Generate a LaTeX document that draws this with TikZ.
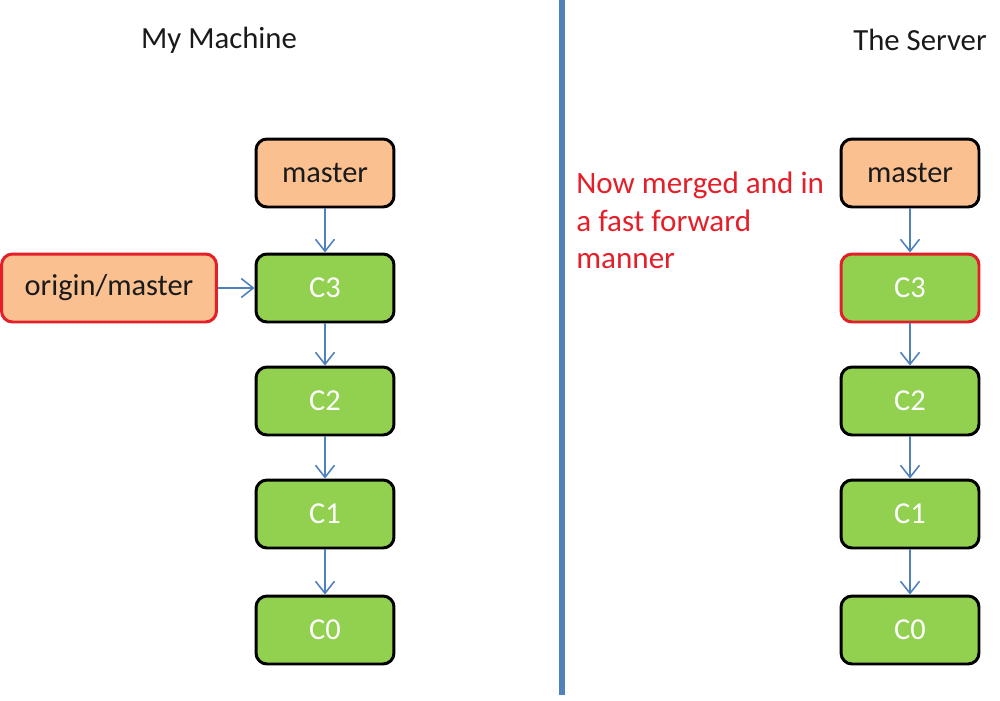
\documentclass[tikz,border=0pt]{standalone}
\usepackage{fontspec}
\setmainfont{Carlito}
\usetikzlibrary{arrows.meta}
\definecolor{boxorange}{HTML}{FAC090}
\definecolor{boxgreen}{HTML}{92D050}
\definecolor{linkblue}{HTML}{4F81BD}
\definecolor{alertred}{HTML}{E3202A}
\definecolor{textdark}{HTML}{1A1A1A}
\tikzset{
  base/.style={rounded corners=0.22cm, line width=1.7pt, minimum height=1.36cm,
    font=\fontsize{17.3}{20}\selectfont, inner sep=0pt},
  branch/.style={base, fill=boxorange, draw=black, text=textdark, minimum width=2.76cm},
  commit/.style={base, fill=boxgreen, draw=black, text=white, minimum width=2.76cm},
  redbranch/.style={branch, draw=alertred},
  redcommit/.style={commit, draw=alertred},
  link/.style={draw=linkblue, line width=0.9pt, -{Straight Barb[length=2.4mm,width=3.8mm,line width=0.9pt]}},
  title/.style={font=\fontsize{17.5}{20}\selectfont, text=textdark},
}
\begin{document}
\begin{tikzpicture}[x=0.02cm, y=-0.02cm]
\useasboundingbox (0,0) rectangle (1000,700);
% titles
\node[title] (tleft) at (219,40) {My Machine};
\node[title] (tright) at (920,40) {The Server};
% divider
\coordinate (dtop) at (562,0);
\coordinate (dbot) at (562,695);
\draw[linkblue, line width=3.4pt] (dtop) -- (dbot);
% left column
\node[branch] (lm) at (325,173) {master};
\node[commit] (l3) at (325,288) {C3};
\node[commit] (l2) at (325,401) {C2};
\node[commit] (l1) at (325,514) {C1};
\node[commit] (l0) at (325,630) {C0};
\node[redbranch, minimum width=4.3cm] (om) at (109,288) {origin/master};
\draw[link] (lm) -- (l3);
\draw[link] (l3) -- (l2);
\draw[link] (l2) -- (l1);
\draw[link] (l1) -- (l0);
\draw[link] (om) -- (l3);
% right column
\node[branch] (rm) at (910,173) {master};
\node[redcommit] (r3) at (910,288) {C3};
\node[commit] (r2) at (910,401) {C2};
\node[commit] (r1) at (910,514) {C1};
\node[commit] (r0) at (910,630) {C0};
\draw[link] (rm) -- (r3);
\draw[link] (r3) -- (r2);
\draw[link] (r2) -- (r1);
\draw[link] (r1) -- (r0);
% note
\node[anchor=north west, align=left, text=alertred, inner sep=0pt,
  font=\fontsize{17.7}{21.2}\selectfont] (note) at (576,172)
  {Now merged and in\\a fast forward\\manner};
\end{tikzpicture}
\end{document}
